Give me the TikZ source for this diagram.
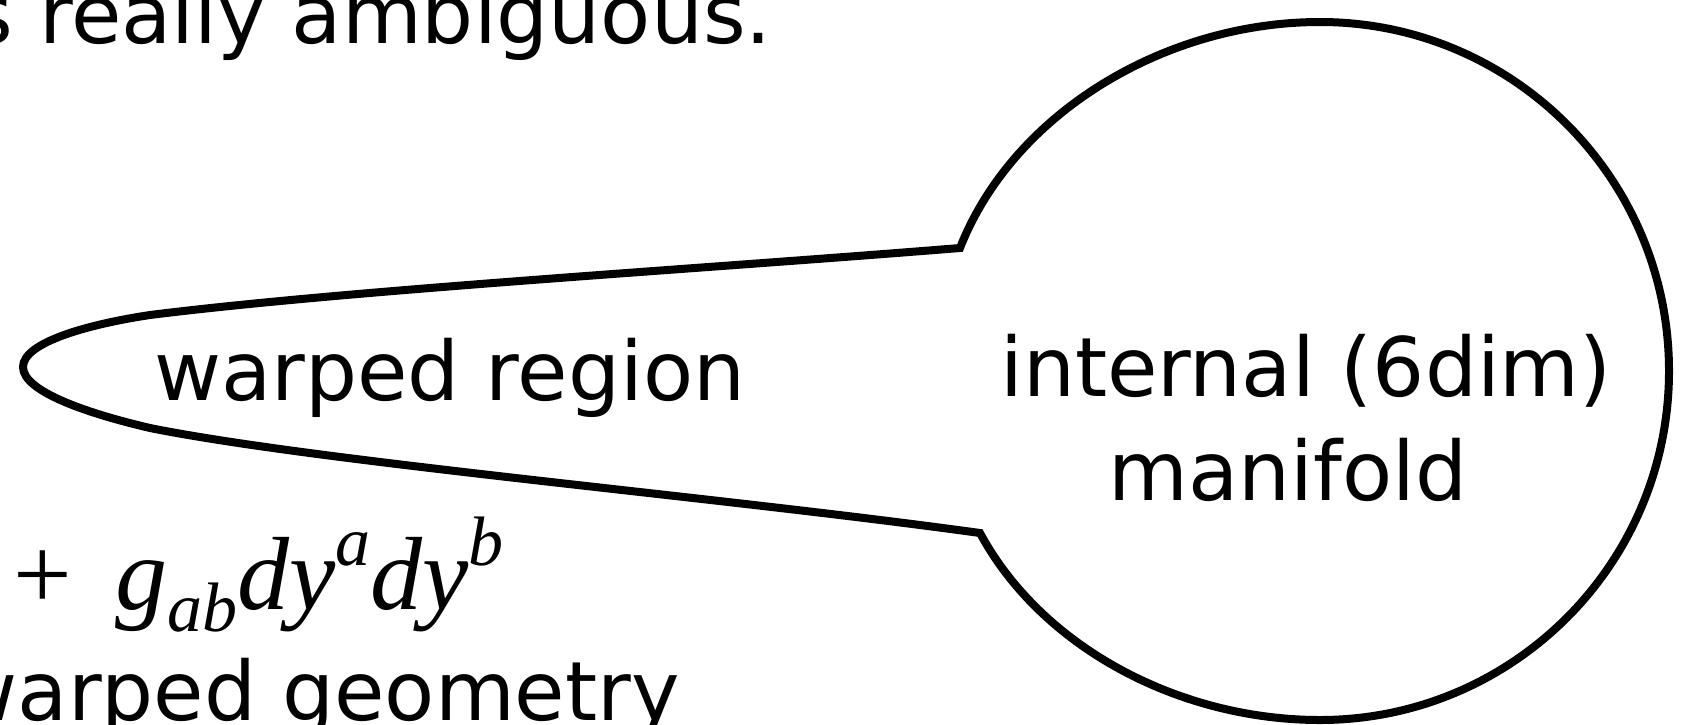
\documentclass[tikz,border=0pt]{standalone}
\usepackage{fontspec}
\setmainfont{DejaVu Sans}
\newfontfamily\formulafont{Liberation Serif}
\newcommand{\supidx}[1]{\raisebox{0.42em}{\fontsize{70}{70}\selectfont\textit{#1}}}
\newcommand{\subidx}[1]{\raisebox{-0.22em}{\fontsize{70}{70}\selectfont\textit{#1}}}
\begin{document}
\begin{tikzpicture}[x=1pt,y=-1pt,
  outline/.style={draw=black, line width=8pt, line join=miter},
  slidetext/.style={inner sep=0pt, font=\fontsize{82}{100}\selectfont},
  formula/.style={inner sep=0pt, font=\formulafont\fontsize{104}{110}\selectfont}]
\useasboundingbox (0,0) rectangle (1686,724);
\clip (0,0) rectangle (1686,724);

% junction points between the throat and the bulb
\coordinate (J1) at (960,248);
\coordinate (J2) at (980,533);
\coordinate (tip) at (23,367);

% throat (upper edge, tip, lower edge), then the round bulb
\path[outline]
  (J1) .. controls (700,269) and (350,290) .. (150,315)
       .. controls (90,324) and (23,342) .. (tip)
       .. controls (23,392) and (90,414) .. (150,428)
       .. controls (320,462) and (720,497) .. (J2)
       .. controls (1042,648) and (1180,720) .. (1320,720)
       arc[start angle=90, end angle=-90, radius=349]
       .. controls (1165,22) and (1013,113) .. cycle;

\node[slidetext, anchor=base east] (lead) at (772,43) {s really ambiguous.};
\node[slidetext, anchor=base west] (warp) at (154,400) {warped region};
\node[slidetext, anchor=base] (internal) at (1306,396) {internal (6dim)};
\node[slidetext, anchor=base] (manifold) at (1288,500) {manifold};
\node[formula, anchor=base west] (metric) at (13,609)
  {+\hspace{0.42em}\textit{g}\subidx{ab}\textit{dy}\supidx{a}\textit{dy}\supidx{b}};
\node[slidetext, anchor=base east] (geom) at (680,720) {warped geometry};
\end{tikzpicture}
\end{document}
